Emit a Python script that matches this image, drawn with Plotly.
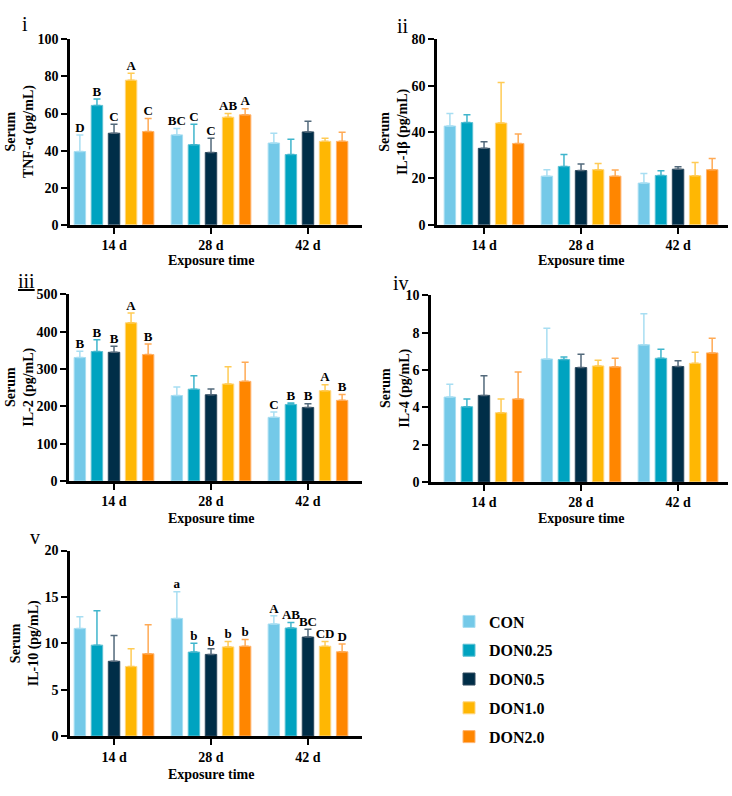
import plotly.graph_objects as go

W, H = 732, 796

groups = ["14 d", "28 d", "42 d"]
series = ["CON", "DON0.25", "DON0.5", "DON1.0", "DON2.0"]
colors = ["#74C9E8", "#00A3C0", "#002E48", "#FFB703", "#FF8600"]
err_colors = ["#A8DEF2", "#3FB5CC", "#52697B", "#FFCB55", "#FFAA55"]
edge_colors = ["#A8DEF2", "#5CC0D3", "#2E4A5E", "#FFD680", "#FFB470"]

# ---- Panel i: TNF-alpha (mean per series, per group) ----
tnf_mean = [[39.5, 48.5, 44.1], [64.4, 43.2, 37.9], [49.4, 39.0, 50.1], [78.0, 58.0, 45.0], [50.3, 59.3, 45.0]]
tnf_sd = [[9.0, 3.5, 5.3], [3.5, 11.1, 8.3], [4.9, 7.7, 5.8], [3.7, 2.0, 1.7], [7.0, 3.3, 4.9]]
tnf_letters = [["D", "BC", ""], ["B", "C", ""], ["C", "C", ""], ["A", "AB", ""], ["C", "A", ""]]

# ---- Panel ii: IL-1beta ----
il1b_mean = [[42.6, 21.0, 18.0], [44.1, 25.2, 21.3], [33.0, 23.4, 24.0], [43.9, 23.8, 21.2], [35.1, 21.0, 23.8]]
il1b_sd = [[5.4, 2.8, 4.1], [3.4, 5.1, 2.0], [2.8, 2.8, 1.0], [17.5, 2.6, 5.7], [4.1, 2.7, 4.8]]
il1b_letters = [["", "", ""]] * 5

# ---- Panel iii: IL-2 ----
il2_mean = [[331, 229, 170.5], [347, 246, 205], [345, 231, 197], [424, 260, 242], [339, 267, 216]]
il2_sd = [[17, 23, 14.5], [31.5, 36, 4], [16, 15.5, 10], [26, 46, 16], [28, 51, 16]]
il2_letters = [["B", "", "C"], ["B", "", "B"], ["B", "", "B"], ["A", "", "A"], ["B", "", "B"]]

# ---- Panel iv: IL-4 ----
il4_mean = [[4.55, 6.59, 7.35], [4.03, 6.56, 6.63], [4.64, 6.13, 6.19], [3.71, 6.22, 6.36], [4.45, 6.17, 6.92]]
il4_sd = [[0.69, 1.65, 1.67], [0.42, 0.14, 0.49], [1.05, 0.71, 0.31], [0.74, 0.30, 0.60], [1.45, 0.46, 0.78]]
il4_letters = [["", "", ""]] * 5

# ---- Panel v: IL-10 ----
il10_mean = [[11.6, 12.68, 12.08], [9.8, 9.05, 11.65], [8.06, 8.8, 10.67], [7.5, 9.61, 9.68], [8.87, 9.68, 9.08]]
il10_sd = [[1.25, 2.88, 0.88], [3.7, 0.95, 0.6], [2.79, 0.6, 0.83], [1.9, 0.59, 0.52], [3.13, 0.72, 0.85]]
il10_letters = [["", "a", "A"], ["", "b", "AB"], ["", "b", "BC"], ["", "b", "CD"], ["", "b", "D"]]

panel_tags = ["i", "ii", "<u>iii</u>", "iv", "v"]
y_titles = ["Serum<br>TNF-α (pg/mL)", "Serum<br>IL-1β (pg/mL)", "Serum<br>IL-2 (pg/mL)",
            "Serum<br>IL-4 (pg/mL)", "Serum<br>IL-10 (pg/mL)"]
y_max = [100, 80, 500, 10, 20]
y_dtick = [20, 20, 100, 2, 5]
x_title = "Exposure time"

panels = [
    (tnf_mean, tnf_sd, tnf_letters),
    (il1b_mean, il1b_sd, il1b_letters),
    (il2_mean, il2_sd, il2_letters),
    (il4_mean, il4_sd, il4_letters),
    (il10_mean, il10_sd, il10_letters),
]

# layout geometry in pixels: (left, right, top, bottom), x-range
boxes = [
    (70, 362, 33, 222, (-0.454, 2.557)),
    (437, 728, 33, 222, (-0.485, 2.515)),
    (69, 362, 293, 483, (-0.464, 2.557)),
    (431, 728, 294, 484, (-0.546, 2.515)),
    (70, 362, 554, 743, (-0.454, 2.557)),
]
tag_pos = [(25, 17), (403, 19), (26, 279), (401, 281), (35, 540)]
ytitle_x = [20, 394, 20, 395, 25]
xtitle_y = [258, 258, 521, 521, 782]

FONT = "Liberation Serif, Times New Roman, serif"
pitch = 0.176
bw = 0.118

fig = go.Figure()
annotations = []

for p, (means, sds, letters) in enumerate(panels):
    ax = "" if p == 0 else str(p + 1)
    xref, yref = "x" + ax, "y" + ax
    for k, name in enumerate(series):
        xs = [g + (k - 2) * pitch for g in range(len(groups))]
        fig.add_trace(go.Bar(
            x=xs, y=means[k], width=bw, name=name,
            marker=dict(color=colors[k], line=dict(color=edge_colors[k], width=1)),
            error_y=dict(type="data", symmetric=False, array=sds[k],
                         arrayminus=[0] * len(groups), color=err_colors[k],
                         thickness=1.5, width=3.5),
            xaxis=xref, yaxis=yref, showlegend=(p == 0), legendgroup=name,
        ))
        tops = [m + s for m, s in zip(means[k], sds[k])]
        if any(letters[k]):
            fig.add_trace(go.Scatter(
                x=xs, y=tops, text=letters[k], mode="text", textposition="top center",
                textfont=dict(family=FONT, size=13, color="black", weight="bold"),
                xaxis=xref, yaxis=yref, showlegend=False, hoverinfo="skip", cliponaxis=False,
            ))
    l, r, t, b, xr = boxes[p]
    fig.layout["xaxis" + ax] = dict(
        domain=[l / W, r / W], range=list(xr), anchor=yref,
        tickvals=list(range(len(groups))), ticktext=groups,
        showline=True, linecolor="black", linewidth=2.5,
        ticks="outside", ticklen=6, tickwidth=2, tickcolor="black",
        showgrid=False, zeroline=False,
        tickfont=dict(family=FONT, size=14, color="black", weight="bold"),
    )
    fig.layout["yaxis" + ax] = dict(
        domain=[1 - b / H, 1 - t / H], range=[0, y_max[p]], dtick=y_dtick[p], anchor=xref,
        showline=True, linecolor="black", linewidth=2.5,
        ticks="outside", ticklen=6, tickwidth=2, tickcolor="black",
        showgrid=False, zeroline=False,
        tickfont=dict(family=FONT, size=14, color="black", weight="bold"),
    )
    annotations.append(dict(
        text=y_titles[p], x=ytitle_x[p] / W, y=1 - (t + b) / 2 / H, xref="paper", yref="paper",
        textangle=-90, showarrow=False, xanchor="center", yanchor="middle",
        font=dict(family=FONT, size=14, color="black", weight="bold"),
    ))
    annotations.append(dict(
        text=x_title, x=1, xref=xref, y=1 - xtitle_y[p] / H, yref="paper",
        showarrow=False, xanchor="center", yanchor="middle",
        font=dict(family=FONT, size=14, color="black", weight="bold"),
    ))
    annotations.append(dict(
        text=panel_tags[p], x=tag_pos[p][0] / W, y=1 - tag_pos[p][1] / H, xref="paper", yref="paper",
        showarrow=False, xanchor="center", yanchor="middle",
        font=dict(family=FONT, size=20, color="black"),
    ))

fig.update_layout(
    width=W, height=H, margin=dict(l=0, r=0, t=0, b=0),
    paper_bgcolor="white", plot_bgcolor="white",
    barmode="overlay", annotations=annotations,
    legend=dict(x=449 / W, y=1 - 609 / H, xanchor="left", yanchor="top",
                font=dict(family=FONT, size=16, color="black", weight="bold"),
                tracegroupgap=5, bgcolor="rgba(0,0,0,0)"),
)

fig.write_html("out.html")
